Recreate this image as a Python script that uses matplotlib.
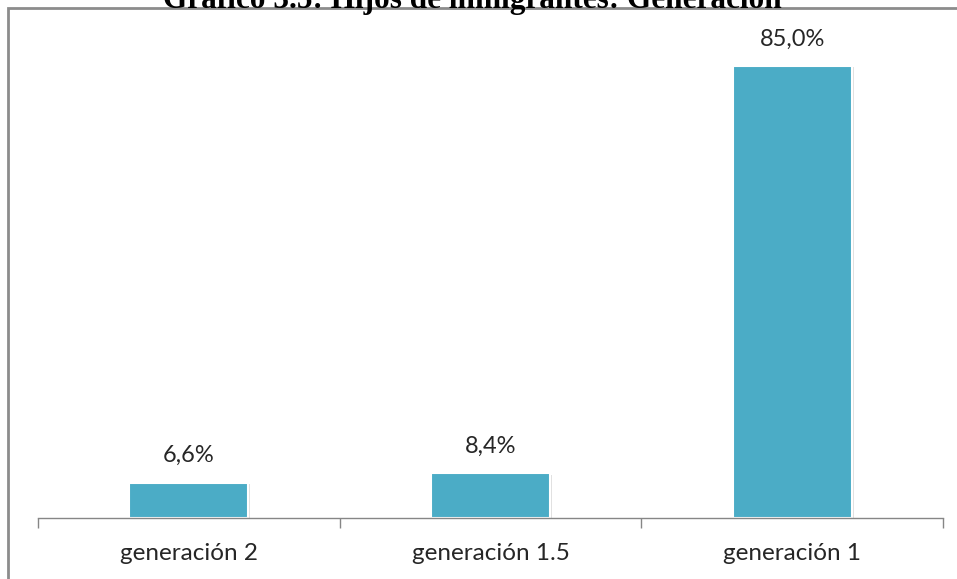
"""Bar chart: children of immigrants by generation."""
import matplotlib.pyplot as plt
import matplotlib.patheffects as pe
from matplotlib.patches import Rectangle

categories = ["generación 2", "generación 1.5", "generación 1"]
shares = [6.6, 8.4, 85.0]
value_labels = ["6,6%", "8,4%", "85,0%"]
title = "Gráfico 3.5: Hijos de inmigrantes: Generación"

W, H = 957, 579
BAR_COLOR = "#4BACC6"
AXIS_COLOR = "#868686"

fig = plt.figure(figsize=(W / 100, H / 100), dpi=100)
fig.patch.set_facecolor("white")

# outer frame of the chart area (runs off the bottom and right edges)
fig.add_artist(Rectangle((8 / W, -0.05), 1.2, 1 - 8 / H + 0.05,
                         transform=fig.transFigure, fill=False,
                         edgecolor="#8c8c8c", linewidth=2.0))

# title sits on the frame and is clipped at the top of the image
fig.text(472 / W, 1 - 8 / H, title, ha="center", va="baseline",
         fontsize=22.5, fontweight="bold", family="Liberation Serif",
         color="black")

ax = fig.add_axes([38 / W, 61 / H, 905 / W, 502 / H])
x = list(range(len(categories)))
bars = ax.bar(x, shares, width=0.395, color=BAR_COLOR,
              edgecolor="white", linewidth=1.5)
for b in bars:
    b.set_path_effects([pe.SimplePatchShadow(offset=(1.5, -1.0),
                                             shadow_rgbFace="#000000",
                                             alpha=0.12),
                        pe.Normal()])

ax.set_xlim(-0.5, len(categories) - 0.5)
ax.set_ylim(0, 502 / (452 / 85.0))

for xi, v, lab in zip(x, shares, value_labels):
    ax.annotate(lab, (xi, v), xytext=(0, 19.5), textcoords="offset points",
                ha="center", va="center", fontsize=17, family="Lato",
                color="#262626")

for side in ("top", "right", "left"):
    ax.spines[side].set_visible(False)
ax.spines["bottom"].set_color(AXIS_COLOR)
ax.spines["bottom"].set_linewidth(1.0)

ax.set_yticks([])
ax.set_xticks([i - 0.5 for i in range(len(categories) + 1)])
ax.set_xticklabels([])
ax.tick_params(axis="x", which="major", length=7, width=1.0,
               color=AXIS_COLOR, direction="out")
ax.set_xticks(x, minor=True)
ax.set_xticklabels(categories, minor=True, fontsize=17.5, family="Lato",
                   color="#262626")
ax.tick_params(axis="x", which="minor", length=0, pad=18)

fig.savefig("out.png", dpi=100, facecolor="white")
